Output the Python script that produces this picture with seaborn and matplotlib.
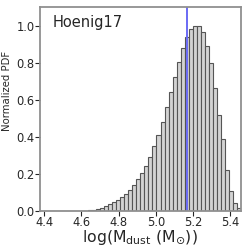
import numpy as np
import pandas as pd
import matplotlib
matplotlib.use("Agg")
import matplotlib.pyplot as plt
import seaborn as sns

# Histogram (normalized PDF) values, 50 bins spanning the x range
x_min, x_max, n_bins = 4.377, 5.458, 50
heights = [0, 0, 0, 0, 0, 0, 0.0003, 0.0005, 0.0008, 0.001,
           0.0015, 0.002, 0.003, 0.005, 0.011, 0.018, 0.026, 0.036, 0.047, 0.059,
           0.075, 0.093, 0.113, 0.140, 0.170, 0.203, 0.243, 0.293, 0.349, 0.410,
           0.482, 0.560, 0.643, 0.721, 0.801, 0.878, 0.939, 0.981, 1.000, 0.995,
           0.966, 0.890, 0.796, 0.662, 0.518, 0.390, 0.221, 0.106, 0.041, 0.014]
vline_x = 5.17
label_text = "Hoenig17"
xticks = [4.4, 4.6, 4.8, 5.0, 5.2, 5.4]
yticks = [0.0, 0.2, 0.4, 0.6, 0.8, 1.0]

edges = np.linspace(x_min, x_max, n_bins + 1)
centers = 0.5 * (edges[:-1] + edges[1:])
df = pd.DataFrame({"x": centers, "w": heights})

sns.set_style("ticks")
fig = plt.figure(figsize=(2.49, 2.49), dpi=100)
ax = fig.add_axes([0.161, 0.153, 0.806, 0.819])

sns.histplot(data=df, x="x", weights="w", bins=n_bins, binrange=(x_min, x_max),
             stat="count", color="#d3d3d3", edgecolor="#555555", linewidth=0.8,
             alpha=1.0, ax=ax)
ax.axvline(vline_x, color="#6a6af5", lw=1.4)

ax.set_xlim(x_min, x_max)
ax.set_ylim(0, 1.1)
ax.set_xticks(xticks)
ax.set_yticks(yticks)
ax.set_xticklabels([f"{t:.1f}" for t in xticks])
ax.set_yticklabels([f"{t:.1f}" for t in yticks])
ax.tick_params(labelsize=8.3, length=3.5, width=0.8, pad=0.5, direction="out")
ax.set_xlabel(r"log(M$_{\rm dust}$ (M$_{\odot}$))", fontsize=11.3)
ax.xaxis.set_label_coords(0.5, -0.087)
ax.set_ylabel("Normalized PDF", fontsize=7.3)
ax.yaxis.set_label_coords(-0.14, 0.59)
ax.text(0.06, 0.96, label_text, transform=ax.transAxes, ha="left", va="top", fontsize=10.5)

for s in ax.spines.values():
    s.set_color("#909090")
    s.set_linewidth(1.3)

fig.savefig("out.png", dpi=100)
